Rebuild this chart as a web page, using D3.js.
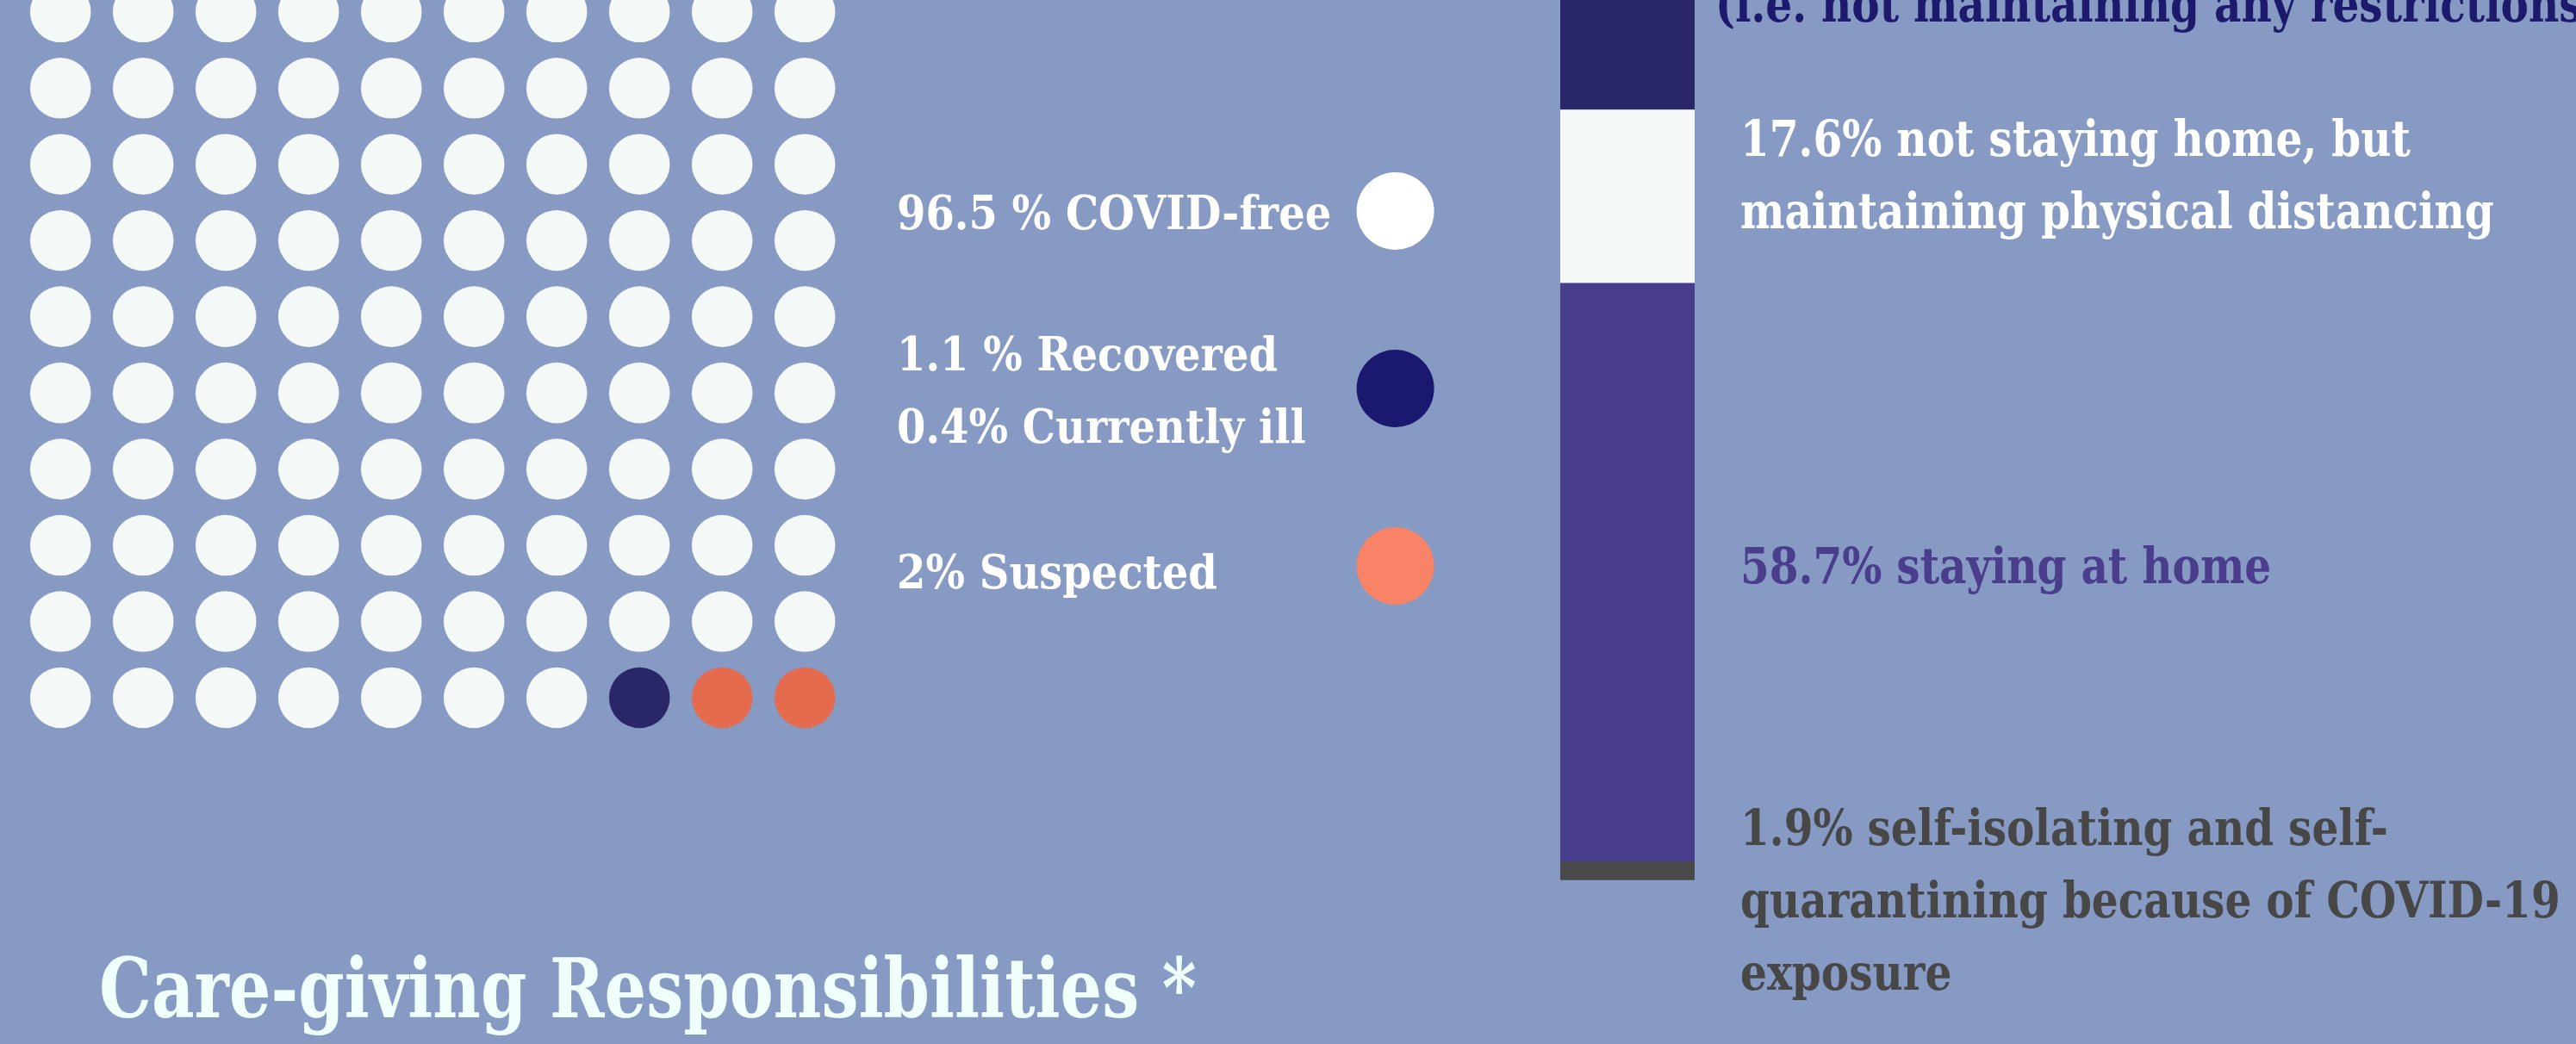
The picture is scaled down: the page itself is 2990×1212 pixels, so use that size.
<!DOCTYPE html>
<html>
<head>
<meta charset="utf-8">
<script src="https://cdn.jsdelivr.net/npm/d3@7"></script>
<style>
  html, body { margin: 0; padding: 0; background: #869ac4; overflow: hidden; }
  svg { display: block; }
  text { font-family: "DejaVu Serif Condensed", "DejaVu Serif", serif; font-weight: bold; }
</style>
</head>
<body>
<div id="chart"></div>
<script>
// Waffle: one dot for each percent
const dotCategories = ['COVID-free', 'Recovered / currently ill', 'Suspected'];
const dotCounts = [97, 1, 2];
const dotColors = ['#f4f9f7', '#2a2768', '#e56b4e'];

// Legend next to the waffle
const legendLines = [['96.5 % COVID-free'], ['1.1 % Recovered', '0.4% Currently ill'], ['2% Suspected']];
const legendColors = ['#ffffff', '#1b1870', '#f98366'];

// Stacked bar (top to bottom)
const stayCategories = ['No restrictions', 'Physical distancing', 'Staying at home', 'Self-isolating'];
const stayValues = [21.8, 17.6, 58.7, 1.9];
const stayColors = ['#2a2768', '#f4f8f6', '#483d8a', '#494949'];
const stayLabelLines = [
  ['(i.e. not maintaining any restrictions)'],
  ['17.6% not staying home, but', 'maintaining physical distancing'],
  ['58.7% staying at home'],
  ['1.9% self-isolating and self-', 'quarantining because of COVID-19', 'exposure']
];
const stayLabelColors = ['#1d1a6e', '#ffffff', '#4a3d8c', '#474747'];

const titleText = 'Care-giving Responsibilities *';

// layout
const W = 2990, H = 1212;
const lineH = 84;

const svg = d3.select('#chart').append('svg')
  .attr('width', W)
  .attr('height', H);

svg.append('rect').attr('width', W).attr('height', H).attr('fill', '#869ac4');

// squeeze text horizontally to get closer to the original face
function fit(k) {
  return sel => sel.each(function () {
    const w = this.getComputedTextLength();
    d3.select(this).attr('textLength', w * k).attr('lengthAdjust', 'spacingAndGlyphs');
  });
}

// ---- waffle ----
const dots = [];
dotCounts.forEach((n, c) => { for (let i = 0; i < n; i++) dots.push({ cat: c }); });
const nCols = 10;
const colScale = d3.scaleLinear().domain([0, nCols - 1]).range([70.2, 934.2]);
const rowScale = d3.scaleLinear().domain([0, 9]).range([13.8, 810]);

svg.append('g').selectAll('circle')
  .data(dots)
  .enter().append('circle')
  .attr('cx', (d, i) => colScale(i % nCols))
  .attr('cy', (d, i) => rowScale(Math.floor(i / nCols)))
  .attr('r', 35.3)
  .attr('fill', d => dotColors[d.cat]);

// ---- legend ----
const legendY = d3.scalePoint().domain(dotCategories).range([245, 657]);
const legend = svg.append('g');

legend.selectAll('circle')
  .data(dotCategories)
  .enter().append('circle')
  .attr('cx', 1619.6)
  .attr('cy', d => legendY(d))
  .attr('r', 45)
  .attr('fill', (d, i) => legendColors[i]);

dotCategories.forEach((cat, i) => {
  const lines = legendLines[i];
  const y0 = legendY(cat) + (i === 2 ? 26 : 21) - (lines.length - 1) * lineH / 2;
  legend.selectAll(null)
    .data(lines)
    .enter().append('text')
    .attr('x', 1041)
    .attr('y', (d, j) => y0 + j * lineH)
    .attr('fill', '#ffffff')
    .style('font-size', '55px')
    .text(d => d)
    .call(fit(0.97));
});

// ---- stacked bar ----
const yBar = d3.scaleLinear().domain([0, 100]).range([1021.7, -122]);
const segs = [];
let level = 100;
stayValues.forEach((v, i) => {
  segs.push({ cat: stayCategories[i], hi: level, lo: level - v, i: i });
  level -= v;
});

svg.append('g').selectAll('rect')
  .data(segs)
  .enter().append('rect')
  .attr('x', 1811)
  .attr('width', 156)
  .attr('y', d => yBar(d.hi))
  .attr('height', d => yBar(d.lo) - yBar(d.hi))
  .attr('fill', d => stayColors[d.i]);

// first baseline of each label, and its left edge
const labelY = [25, 181, 677, 981];
const labelX = [1991, 2020, 2020, 2020];

segs.forEach(s => {
  svg.append('g').selectAll('text')
    .data(stayLabelLines[s.i])
    .enter().append('text')
    .attr('x', labelX[s.i])
    .attr('y', (d, j) => labelY[s.i] + j * lineH)
    .attr('fill', stayLabelColors[s.i])
    .style('font-size', '57px')
    .text(d => d)
    .call(fit(0.947));
});

// ---- section title ----
svg.append('text')
  .attr('x', 115)
  .attr('y', 1181)
  .attr('fill', '#effffc')
  .style('font-size', '95px')
  .text(titleText)
  .call(fit(0.895));
</script>
</body>
</html>
